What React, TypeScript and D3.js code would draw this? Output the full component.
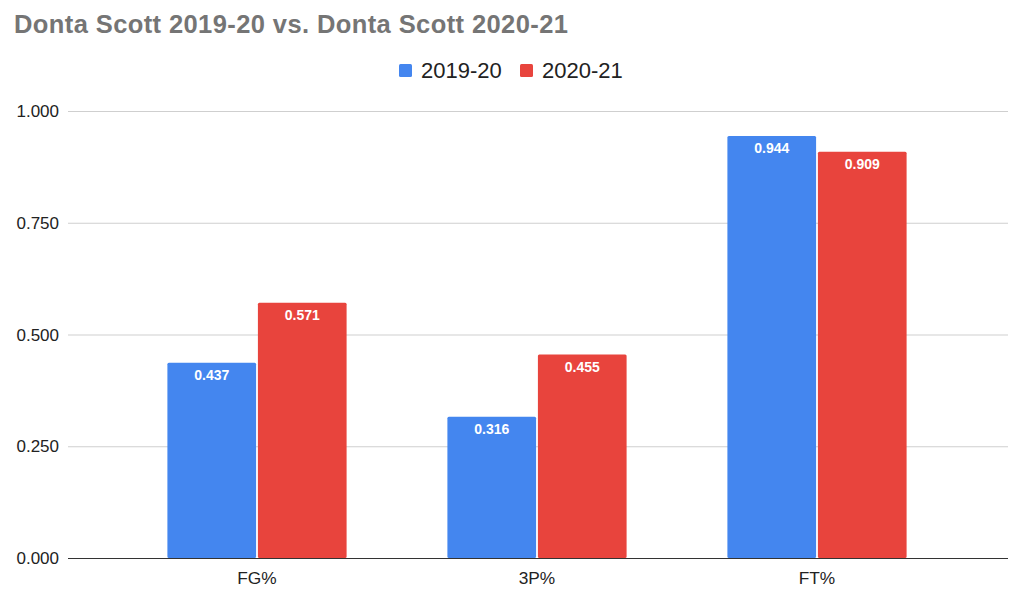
import React, { useEffect, useRef } from "react";
import * as d3 from "d3";

const categories = ["FG%", "3P%", "FT%"];
const seriesNames = ["2019-20", "2020-21"];
const values2019 = [0.437, 0.316, 0.944];
const values2020 = [0.571, 0.455, 0.909];
const yTicks = [0, 0.25, 0.5, 0.75, 1];
const colors = ["#4486ef", "#e8443d"];

export default function App() {
    const chartRef = useRef<SVGSVGElement | null>(null);

    useEffect(() => {
        const width = 1024;
        const height = 604;
        const svg = d3.select(chartRef.current);
        svg.selectAll("*").remove();
        svg.attr("width", width).attr("height", height);

        const font = "'Liberation Sans', Arial, sans-serif";

        const x = d3.scaleBand<string>().domain(categories).range([117, 957]).paddingInner(0.36).paddingOuter(0.18);
        const xInner = d3.scaleBand<string>().domain(seriesNames).range([0, x.bandwidth()]).paddingInner(0.02);
        const y = d3.scaleLinear().domain([0, 1]).range([558, 111]);

        // title
        svg.append("text")
            .attr("x", 14)
            .attr("y", 33)
            .attr("font-family", font)
            .attr("font-size", 25.5)
            .attr("font-weight", "bold")
            .attr("letter-spacing", 0.4)
            .attr("fill", "#757575")
            .text("Donta Scott 2019-20 vs. Donta Scott 2020-21");

        // legend
        const legend = svg.append("g").attr("font-family", font).attr("font-size", 22).attr("fill", "#222");
        const legendX = [399, 520];
        seriesNames.forEach((s, i) => {
            legend.append("rect")
                .attr("x", legendX[i])
                .attr("y", 64)
                .attr("width", 13)
                .attr("height", 13)
                .attr("rx", 1.5)
                .attr("fill", colors[i]);
            legend.append("text")
                .attr("x", legendX[i] + 22)
                .attr("y", 77.5)
                .text(s);
        });

        // gridlines + y labels
        const grid = svg.append("g");
        yTicks.forEach((t) => {
            if (t > 0) {
                grid.append("line")
                    .attr("x1", 68)
                    .attr("x2", 1008)
                    .attr("y1", y(t) + 0.5)
                    .attr("y2", y(t) + 0.5)
                    .attr("stroke", "#cfcfcf")
                    .attr("stroke-width", 1);
            }
            grid.append("text")
                .attr("x", 59)
                .attr("y", y(t) + 6)
                .attr("text-anchor", "end")
                .attr("font-family", font)
                .attr("font-size", 17)
                .attr("fill", "#222")
                .text(d3.format(".3f")(t));
        });

        // bars
        const rows = categories.map((c, i) => ({ category: c, vals: [values2019[i], values2020[i]] }));
        const groups = svg.append("g")
            .selectAll("g")
            .data(rows)
            .join("g")
            .attr("transform", (d) => `translate(${x(d.category)},0)`);

        groups.selectAll("rect")
            .data((d) => d.vals.map((v, i) => ({ series: seriesNames[i], value: v, idx: i })))
            .join("rect")
            .attr("x", (d) => xInner(d.series) as number)
            .attr("y", (d) => y(d.value))
            .attr("width", xInner.bandwidth())
            .attr("height", (d) => y(0) - y(d.value))
            .attr("rx", 1.5)
            .attr("fill", (d) => colors[d.idx]);

        groups.selectAll("text")
            .data((d) => d.vals.map((v, i) => ({ series: seriesNames[i], value: v })))
            .join("text")
            .attr("x", (d) => (xInner(d.series) as number) + xInner.bandwidth() / 2)
            .attr("y", (d) => y(d.value) + 17)
            .attr("text-anchor", "middle")
            .attr("font-family", font)
            .attr("font-size", 14)
            .attr("font-weight", "bold")
            .attr("fill", "#fff")
            .text((d) => d3.format(".3f")(d.value));

        // baseline
        svg.append("line")
            .attr("x1", 68)
            .attr("x2", 1008)
            .attr("y1", y(0) + 0.5)
            .attr("y2", y(0) + 0.5)
            .attr("stroke", "#333")
            .attr("stroke-width", 1.2);

        // x labels
        svg.append("g")
            .selectAll("text")
            .data(categories)
            .join("text")
            .attr("x", (d) => (x(d) as number) + x.bandwidth() / 2)
            .attr("y", 584)
            .attr("text-anchor", "middle")
            .attr("font-family", font)
            .attr("font-size", 17.3)
            .attr("fill", "#222")
            .text((d) => d);
    }, []);

    return (
        <div style={{ position: "absolute", left: 0, top: 0 }}>
            <svg ref={chartRef}></svg>
        </div>
    );
}
